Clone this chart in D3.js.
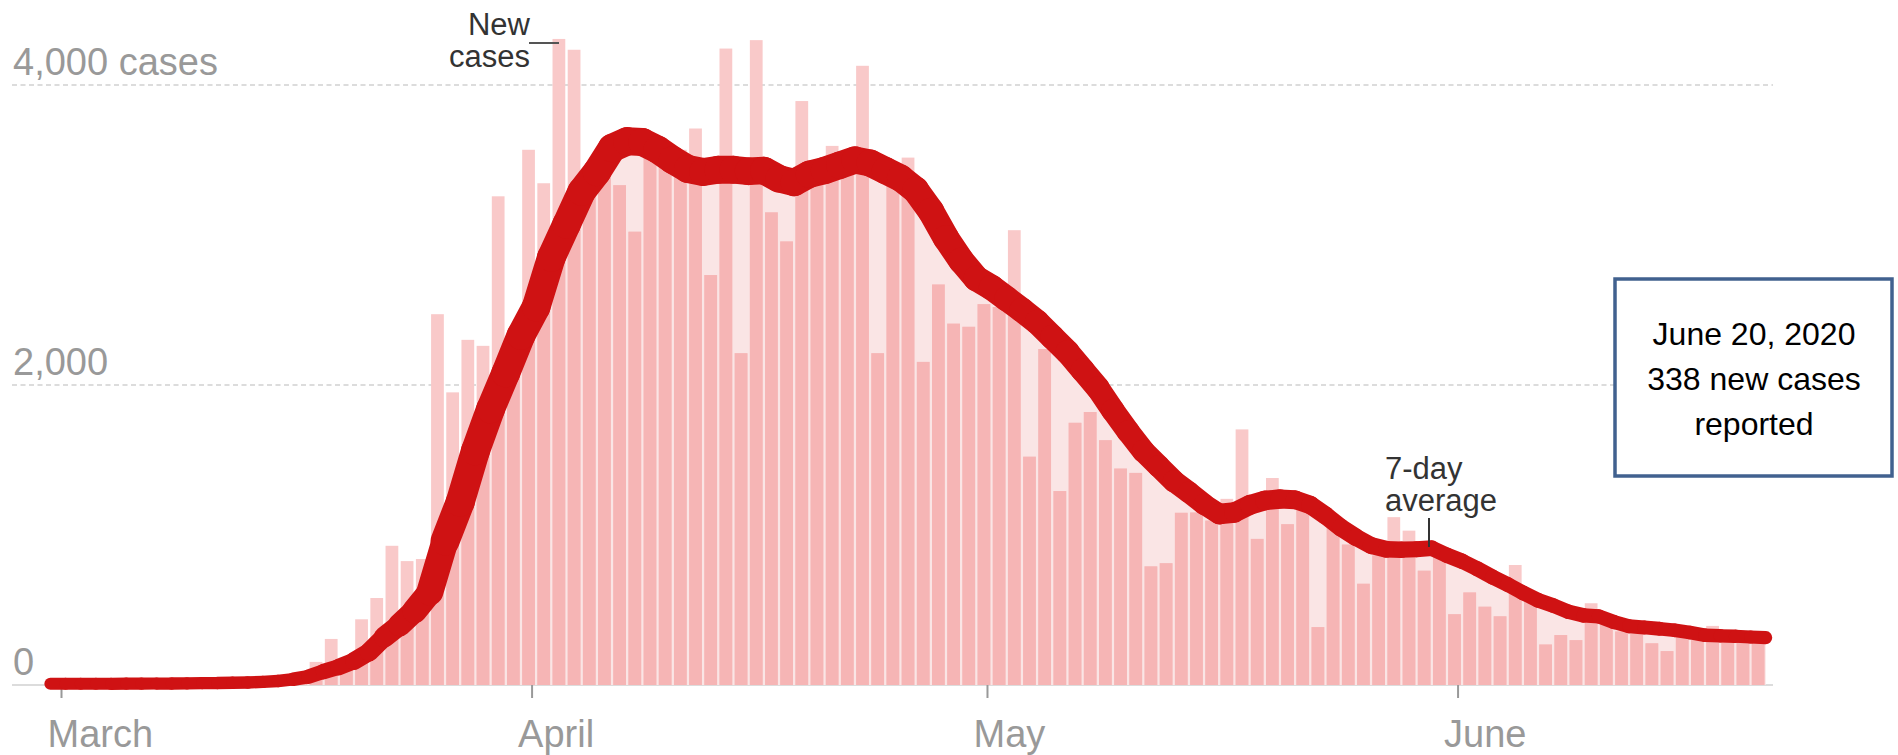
<script src="https://d3js.org/d3.v7.min.js"></script>

<style>
  body { margin: 0; background: #fff; }
  text { font-family: "Liberation Sans", Arial, sans-serif; }
</style>

<body>
  <div id="chart"></div>
</body>

<script>
// daily new cases, March 1 (day 0) to June 20 (day 111)
var newCases = [
  0, 0, 0, 1, 1, 2, 2, 5, 5, 10, 12, 18, 24, 30, 50, 80,
  154, 307, 110, 438, 580, 928, 826, 840, 2472, 1951, 2301, 2261, 3258, 2350, 3568,
  3345, 4307, 4235, 3380, 3600, 3332, 3022, 3600, 3500, 3568, 3710, 2733, 4243, 2212, 4299,
  3151, 2957, 3893, 3400, 3594, 3450, 4128, 2212, 3333, 3516, 2154, 2670, 2409, 2388, 2539,
  2520, 3032, 1522, 2240, 1293, 1748, 1820, 1632, 1443, 1414, 791, 812, 1148, 1150, 1096,
  1241, 1704, 974, 1380, 1072, 1230, 386, 1090, 936, 675, 864, 1119, 1029, 762, 907, 472,
  617, 522, 458, 800, 560, 270, 333, 299, 545, 415, 357, 342, 278, 226, 328, 299, 394, 357, 313, 338
]

var avgStart = -1.5
var avgValues = [
  8, 8, 8, 8, 8, 9, 9, 10, 10, 11, 12, 13, 15, 17, 21, 27, 38, 56, 90, 120,
  160, 220, 320, 400, 495, 620, 960, 1220, 1560, 1840, 2080, 2330, 2520, 2850, 3070, 3290,
  3420, 3580, 3625, 3620, 3570, 3500, 3440, 3420, 3435, 3435, 3425, 3430, 3375, 3350, 3405,
  3430, 3465, 3500, 3480, 3430, 3380, 3300, 3160, 2980, 2830, 2710, 2650, 2575, 2500, 2420,
  2320, 2220, 2100, 1980, 1830, 1690, 1560, 1460, 1360, 1285, 1205, 1140, 1150, 1200, 1230,
  1240, 1235, 1200, 1130, 1050, 985, 930, 905, 902, 905, 912, 865, 825, 775, 720, 670, 615,
  565, 530, 488, 464, 458, 420, 392, 384, 375, 365, 350, 332, 328, 325, 320, 316
]

var monthDays = [0, 31, 61, 92]
var monthNames = ["March", "April", "May", "June"]
var yTicks = [0, 2000, 4000]
var yTickLabels = ["0", "2,000", "4,000 cases"]

var width = 1898, height = 755
var gridLeft = 12, gridRight = 1773

var svg = d3.select("#chart")
  .append("svg")
  .attr("width", width)
  .attr("height", height)

// x in days since March 1; month ticks sit at the start of the day
var x = d3.scaleLinear()
  .domain([0, 112])
  .range([61, 61 + 112 * 15.18])

var y = d3.scaleLinear()
  .domain([0, 4000])
  .range([685, 85])

var barShift = 0.8   // bar centre relative to the tick
var barHalf = 0.42

// the marker-like average line is drawn heavier through the middle of the chart
var thickness = d3.scaleLinear()
  .domain([-2, 14, 20, 25, 55, 70, 80, 90, 112])
  .range([12, 12.5, 19, 29, 27, 23, 19, 15.5, 13])

// gridlines
svg.append("g")
  .selectAll("line")
  .data(yTicks)
  .enter()
  .append("line")
  .attr("x1", gridLeft)
  .attr("x2", gridRight)
  .attr("y1", function(d){ return y(d) })
  .attr("y2", function(d){ return y(d) })
  .attr("stroke", "#dcdcdc")
  .attr("stroke-width", 2)
  .attr("stroke-dasharray", function(d){ return d == 0 ? null : "5,3.5" })

svg.append("g")
  .selectAll("text")
  .data(yTicks)
  .enter()
  .append("text")
  .attr("x", 13)
  .attr("y", function(d){ return y(d) - 10 })
  .attr("fill", "#999")
  .attr("font-size", 38)
  .text(function(d, i){ return yTickLabels[i] })

// month axis
var xAxis = svg.append("g")
  .attr("transform", "translate(0," + y(0) + ")")
  .call(d3.axisBottom(x)
    .tickValues(monthDays)
    .tickSize(13)
    .tickFormat(function(d, i){ return monthNames[i] }))

xAxis.select(".domain").remove()
xAxis.selectAll(".tick line")
  .attr("stroke", "#999")
  .attr("stroke-width", 2)
xAxis.selectAll(".tick text")
  .attr("fill", "#999")
  .attr("font-size", 38)
  .attr("font-family", "Liberation Sans, Arial, sans-serif")
  .attr("text-anchor", "start")
  .attr("x", -14)
  .attr("y", 62)
  .attr("dy", null)

// area under the average
var avgData = avgValues.map(function(v, i){ return {day: avgStart + i, value: v} })

var area = d3.area()
  .x(function(d){ return x(d.day + barShift) })
  .y0(y(0))
  .y1(function(d){ return y(d.value) })

svg.append("clipPath")
  .attr("id", "under-avg")
  .append("path")
  .attr("d", area(avgData))

svg.append("path")
  .attr("d", area(avgData))
  .attr("fill", "#fae5e5")

function drawBars(fill, clip){
  var g = svg.append("g")
  if (clip) g.attr("clip-path", "url(#under-avg)")
  g.selectAll("rect")
    .data(newCases)
    .enter()
    .append("rect")
    .attr("x", function(d, i){ return x(i + barShift - barHalf) })
    .attr("width", x(2 * barHalf) - x(0))
    .attr("y", function(d){ return y(d) })
    .attr("height", function(d){ return y(0) - y(d) })
    .attr("fill", fill)
}
drawBars("#f9c9c9", false)
drawBars("#f6b5b5", true)

// average line drawn piece by piece so its width can vary
var segments = d3.pairs(avgData)
svg.append("g")
  .selectAll("line")
  .data(segments)
  .enter()
  .append("line")
  .attr("x1", function(d){ return x(d[0].day + barShift) })
  .attr("y1", function(d){ return y(d[0].value) })
  .attr("x2", function(d){ return x(d[1].day + barShift) })
  .attr("y2", function(d){ return y(d[1].value) })
  .attr("stroke", "#cf1213")
  .attr("stroke-width", function(d){ return thickness((d[0].day + d[1].day) / 2) })
  .attr("stroke-linecap", "round")

// annotations
var note = svg.append("g")
  .attr("fill", "#333")
  .attr("font-size", 31)

note.append("text").attr("x", 530).attr("y", 35).attr("text-anchor", "end").text("New")
note.append("text").attr("x", 530).attr("y", 67).attr("text-anchor", "end").text("cases")
svg.append("line")
  .attr("x1", 529).attr("x2", 559)
  .attr("y1", 43).attr("y2", 43)
  .attr("stroke", "#555").attr("stroke-width", 2)

note.append("text").attr("x", 1385).attr("y", 479).text("7-day")
note.append("text").attr("x", 1385).attr("y", 511).text("average")
svg.append("line")
  .attr("x1", 1429).attr("x2", 1429)
  .attr("y1", 518).attr("y2", 547)
  .attr("stroke", "#333").attr("stroke-width", 2)

// callout box
svg.append("rect")
  .attr("x", 1615)
  .attr("y", 279)
  .attr("width", 277)
  .attr("height", 197)
  .attr("fill", "#fff")
  .attr("stroke", "#41618f")
  .attr("stroke-width", 3.5)

var boxLines = ["June 20, 2020", "338 new cases", "reported"]
svg.append("g")
  .selectAll("text")
  .data(boxLines)
  .enter()
  .append("text")
  .attr("x", 1754)
  .attr("y", function(d, i){ return 345 + i * 45 })
  .attr("text-anchor", "middle")
  .attr("fill", "#000")
  .attr("font-size", 32)
  .text(function(d){ return d })
</script>
